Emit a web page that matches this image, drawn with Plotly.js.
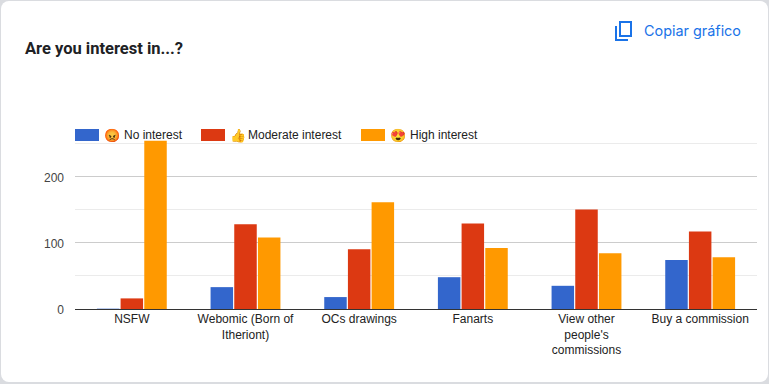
<!DOCTYPE html>
<html><head><meta charset="utf-8">
<script src="https://cdn.plot.ly/plotly-3.0.1.min.js"></script>
<style>html,body{margin:0;padding:0;background:#fff;overflow:hidden}
#frame{position:absolute;left:0;top:0;width:769px;height:384px;background:#dadce0}
#card{position:absolute;left:1px;top:1px;width:767px;height:381px;background:#fff;border-radius:8px}
#c{position:absolute;left:0;top:0;width:769px;height:384px}</style>
</head><body><div id="frame"></div><div id="card"></div><div id="c"></div>
<script>
const categories=["NSFW","Webomic (Born of<br>Itheriont)","OCs drawings","Fanarts","View other<br>people's<br>commissions","Buy a commission"];
const seriesNames=["No interest","Moderate interest","High interest"];
const seriesEmoji=["😡","👍","😍"];
const noInterest=[0.5,33,18,48,35,74];
const moderateInterest=[16,128,90,129,150,117];
const highInterest=[254,108,161,92,84,78];
const colors=["#3366cc","#dc3912","#ff9900"];
const yTicks=[0,100,200];
const W=769,H=384,L=75,R=757,T=140,B=309;
const px=x=>(x-L)/(R-L), py=y=>(B-y)/(B-T);
const vals=[noInterest,moderateInterest,highInterest];
const traces=vals.map((v,i)=>({type:'bar',x:categories,y:v,name:seriesEmoji[i]+' '+seriesNames[i],marker:{color:colors[i]},hoverinfo:'x+y'}));
const legendX=[75,201,361], emojiX=[102,228,388], textX=[122,246,408];
const shapes=legendX.map((x,i)=>({type:'rect',xref:'paper',yref:'paper',x0:px(x),x1:px(x+24),y0:py(141),y1:py(129),fillcolor:colors[i],line:{width:0},layer:'above'}));
const iconBlue='#1a73e8';
shapes.push({type:'rect',xref:'paper',yref:'paper',x0:px(620),x1:px(631),y0:py(36),y1:py(22),line:{color:iconBlue,width:2}});
shapes.push({type:'path',xref:'paper',yref:'paper',path:`M ${px(616)} ${py(26)} L ${px(616)} ${py(40)} L ${px(628)} ${py(40)}`,line:{color:iconBlue,width:2}});
const ff='Liberation Sans, Arial, sans-serif';
const legendAnn=seriesNames.flatMap((s,i)=>[
 {xref:'paper',yref:'paper',x:px(emojiX[i]),y:py(135),xanchor:'left',yanchor:'middle',text:seriesEmoji[i],showarrow:false,font:{family:ff,size:13,color:'#222'}},
 {xref:'paper',yref:'paper',x:px(textX[i]),y:py(135),xanchor:'left',yanchor:'middle',text:s,showarrow:false,font:{family:ff,size:12,color:'#222'}}]);
const layout={width:W,height:H,margin:{l:L,r:W-R,t:T,b:H-B,pad:0},paper_bgcolor:'rgba(0,0,0,0)',plot_bgcolor:'rgba(0,0,0,0)',
 barmode:'group',bargap:0.375,bargroupgap:0.05,showlegend:false,
 font:{family:ff,size:12,color:'#222'},
 xaxis:{tickfont:{size:12,color:'#222'},ticks:'',showgrid:false,automargin:false,showline:false,fixedrange:true,ticklabelstandoff:1},
 yaxis:{range:[0,255],tickvals:yTicks,tickfont:{size:12,color:'#444'},gridcolor:'#cccccc',gridwidth:1,zeroline:true,zerolinecolor:'#333333',zerolinewidth:1,ticks:'',ticklen:0,automargin:false,fixedrange:true,ticklabelstandoff:10,ticklabelshift:1,
   minor:{tickvals:[50,150,250],showgrid:true,gridcolor:'#ebebeb',gridwidth:1,ticks:''}},
 shapes:shapes,
 annotations:[
  {xref:'paper',yref:'paper',x:px(23),y:py(49),xanchor:'left',yanchor:'middle',text:'<b>Are you interest in...?</b>',showarrow:false,font:{family:'Roboto, sans-serif',size:16.5,color:'#202124'}},
  {xref:'paper',yref:'paper',x:px(642),y:py(31),xanchor:'left',yanchor:'middle',text:'Copiar gráfico',showarrow:false,font:{family:'Inter, Roboto, sans-serif',size:14.4,color:iconBlue}},
  ...legendAnn]};
Plotly.newPlot('c',traces,layout,{displayModeBar:false,staticPlot:true});
</script></body></html>
